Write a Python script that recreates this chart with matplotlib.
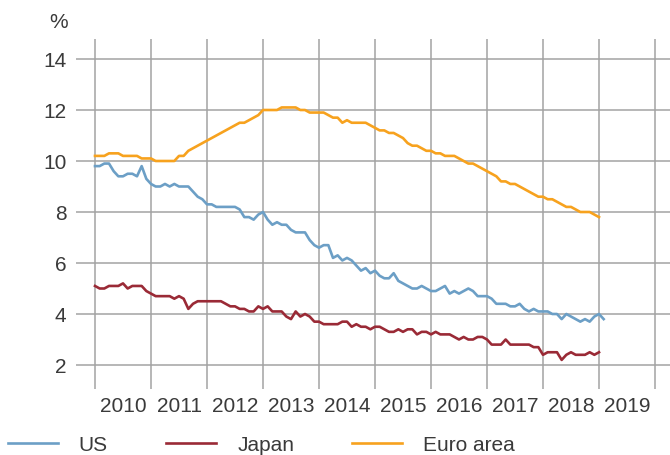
import numpy as np
import matplotlib.pyplot as plt

# monthly unemployment rates (%), Jan 2010 onwards
us = [9.8, 9.8, 9.9, 9.9, 9.6, 9.4, 9.4, 9.5, 9.5, 9.4, 9.8, 9.3,
      9.1, 9.0, 9.0, 9.1, 9.0, 9.1, 9.0, 9.0, 9.0, 8.8, 8.6, 8.5,
      8.3, 8.3, 8.2, 8.2, 8.2, 8.2, 8.2, 8.1, 7.8, 7.8, 7.7, 7.9,
      8.0, 7.7, 7.5, 7.6, 7.5, 7.5, 7.3, 7.2, 7.2, 7.2, 6.9, 6.7,
      6.6, 6.7, 6.7, 6.2, 6.3, 6.1, 6.2, 6.1, 5.9, 5.7, 5.8, 5.6,
      5.7, 5.5, 5.4, 5.4, 5.6, 5.3, 5.2, 5.1, 5.0, 5.0, 5.1, 5.0,
      4.9, 4.9, 5.0, 5.1, 4.8, 4.9, 4.8, 4.9, 5.0, 4.9, 4.7, 4.7,
      4.7, 4.6, 4.4, 4.4, 4.4, 4.3, 4.3, 4.4, 4.2, 4.1, 4.2, 4.1,
      4.1, 4.1, 4.0, 4.0, 3.8, 4.0, 3.9, 3.8, 3.7, 3.8, 3.7, 3.9,
      4.0, 3.8]

japan = [5.1, 5.0, 5.0, 5.1, 5.1, 5.1, 5.2, 5.0, 5.1, 5.1, 5.1, 4.9,
         4.8, 4.7, 4.7, 4.7, 4.7, 4.6, 4.7, 4.6, 4.2, 4.4, 4.5, 4.5,
         4.5, 4.5, 4.5, 4.5, 4.4, 4.3, 4.3, 4.2, 4.2, 4.1, 4.1, 4.3,
         4.2, 4.3, 4.1, 4.1, 4.1, 3.9, 3.8, 4.1, 3.9, 4.0, 3.9, 3.7,
         3.7, 3.6, 3.6, 3.6, 3.6, 3.7, 3.7, 3.5, 3.6, 3.5, 3.5, 3.4,
         3.5, 3.5, 3.4, 3.3, 3.3, 3.4, 3.3, 3.4, 3.4, 3.2, 3.3, 3.3,
         3.2, 3.3, 3.2, 3.2, 3.2, 3.1, 3.0, 3.1, 3.0, 3.0, 3.1, 3.1,
         3.0, 2.8, 2.8, 2.8, 3.0, 2.8, 2.8, 2.8, 2.8, 2.8, 2.7, 2.7,
         2.4, 2.5, 2.5, 2.5, 2.2, 2.4, 2.5, 2.4, 2.4, 2.4, 2.5, 2.4,
         2.5]

euro = [10.2, 10.2, 10.2, 10.3, 10.3, 10.3, 10.2, 10.2, 10.2, 10.2, 10.1, 10.1,
        10.1, 10.0, 10.0, 10.0, 10.0, 10.0, 10.2, 10.2, 10.4, 10.5, 10.6, 10.7,
        10.8, 10.9, 11.0, 11.1, 11.2, 11.3, 11.4, 11.5, 11.5, 11.6, 11.7, 11.8,
        12.0, 12.0, 12.0, 12.0, 12.1, 12.1, 12.1, 12.1, 12.0, 12.0, 11.9, 11.9,
        11.9, 11.9, 11.8, 11.7, 11.7, 11.5, 11.6, 11.5, 11.5, 11.5, 11.5, 11.4,
        11.3, 11.2, 11.2, 11.1, 11.1, 11.0, 10.9, 10.7, 10.6, 10.6, 10.5, 10.4,
        10.4, 10.3, 10.3, 10.2, 10.2, 10.2, 10.1, 10.0, 9.9, 9.9, 9.8, 9.7,
        9.6, 9.5, 9.4, 9.2, 9.2, 9.1, 9.1, 9.0, 8.9, 8.8, 8.7, 8.6,
        8.6, 8.5, 8.5, 8.4, 8.3, 8.2, 8.2, 8.1, 8.0, 8.0, 8.0, 7.9,
        7.8]

years = list(range(2010, 2020))
year_labels = [str(y) for y in years]

plt.rcParams['font.family'] = ['Liberation Sans', 'DejaVu Sans']
text_color = '#3a3a3a'
grid_color = '#a3a3a3'
fs = 15

# months as fractional years
def month_axis(series):
    return 2010 + np.arange(len(series)) / 12.0

fig = plt.figure(figsize=(6.7, 4.56), dpi=100)
ax = fig.add_axes([76/670, 1 - 390/456, 1 - 76/670, 350/456])

ax.plot(month_axis(us), us, color='#6c9fc6', lw=1.9, label='US', zorder=3)
ax.plot(month_axis(japan), japan, color='#9a2a36', lw=1.9, label='Japan', zorder=3)
ax.plot(month_axis(euro), euro, color='#f7a21e', lw=1.9, label='Euro area', zorder=3)

ax.set_xlim(2010 - 19/56, 2010 + 575/56)
ax.set_ylim(2 - 24/25.5, 14 + 20/25.5)

# horizontal grid at y ticks, vertical grid at year boundaries, labels mid-year
ax.set_yticks([2, 4, 6, 8, 10, 12, 14])
ax.set_xticks(np.array(years + [2020]), minor=True)
ax.set_xticks(np.array(years) + 0.5)
ax.set_xticklabels(year_labels)
ax.grid(axis='y', which='major', color=grid_color, lw=1.1)
ax.grid(axis='x', which='minor', color=grid_color, lw=1.1)
ax.set_axisbelow(True)
ax.tick_params(axis='both', which='both', length=0, labelsize=fs, colors=text_color)
ax.tick_params(axis='y', pad=7)
ax.tick_params(axis='x', pad=5)
for s in ax.spines.values():
    s.set_visible(False)

fig.text(59/670, 1 - 23/456, '%', ha='center', va='center', fontsize=fs, color=text_color)

handles, labels = ax.get_legend_handles_labels()
leg = fig.legend(handles, labels, loc='center left', bbox_to_anchor=(8/670, 1 - 446/456),
                 ncol=3, frameon=False, fontsize=fs, borderpad=0, borderaxespad=0,
                 handlelength=2.4, handletextpad=1.0, columnspacing=2.8)
for t in leg.get_texts():
    t.set_color(text_color)

plt.savefig('out.png', dpi=100)
